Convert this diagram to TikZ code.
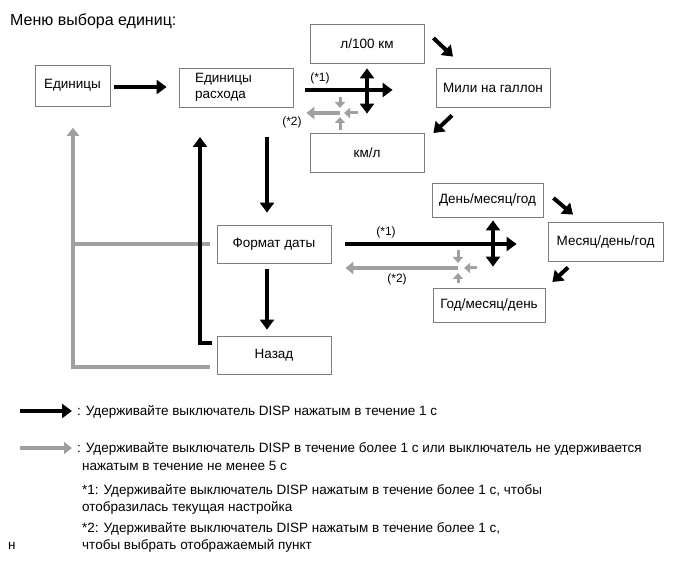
\documentclass[tikz,border=0pt]{standalone}
\usepackage{fontspec}
\setmainfont{Liberation Sans}
\usetikzlibrary{arrows.meta}
\definecolor{boxgray}{RGB}{125,125,125}
\definecolor{arrgray}{RGB}{160,160,160}
\tikzset{
  unitbox/.style={draw=boxgray, line width=0.8pt, minimum width=114pt, minimum height=39pt, inner sep=0pt, font=\fontsize{13.5}{16}\selectfont},
  blk/.style={line width=4pt, draw=black, -{Triangle[length=10pt,width=14pt]}},
  blkboth/.style={line width=4pt, draw=black, {Triangle[length=10pt,width=14pt]}-{Triangle[length=10pt,width=14pt]}},
  gry/.style={line width=4pt, draw=arrgray, -{Triangle[length=8pt,width=12pt]}},
  gryin/.style={line width=3pt, draw=arrgray, -{Triangle[length=6pt,width=10pt]}},
  notelabel/.style={font=\fontsize{12}{14}\selectfont, inner sep=0pt},
  legend/.style={anchor=base west, inner sep=0pt, font=\fontsize{13.5}{17}\selectfont},
}
\begin{document}
\begin{tikzpicture}[x=1pt, y=-1pt]
\useasboundingbox (0,0) rectangle (691,564);
\node[anchor=base west, inner sep=0pt, font=\fontsize{16}{19}\selectfont] (title) at (10,25.5) {Меню выбора единиц:};

% units menu
\node[unitbox, minimum width=75pt, minimum height=41pt] (units) at (72.5,85.5) {Единицы};
\node[unitbox, text width=82pt, inner xsep=16pt, align=left] (cons) at (236,87.5) {Единицы\\расхода};
\node[unitbox] (l100) at (367,43.5) {л/100 км};
\node[unitbox] (mpg) at (493,87.5) {Мили на галлон};
\node[unitbox] (kml) at (367,152.5) {км/л};

% date menu
\node[unitbox, minimum width=111pt, minimum height=34pt] (dmy) at (487.5,200) {День/месяц/год};
\node[unitbox, minimum width=115pt] (mdy) at (605.5,241.5) {Месяц/день/год};
\node[unitbox, minimum width=112pt, minimum height=34pt] (ymd) at (489,305) {Год/месяц/день};
\node[unitbox, minimum height=38pt] (fmt) at (274,244) {Формат даты};
\node[unitbox, minimum height=38pt] (back) at (274,355) {Назад};

\coordinate (hubA) at (340,113);
\coordinate (hubB) at (458,268);
\coordinate (grayup) at (73,128);
\coordinate (blackup) at (200,137);

% gray returns
\draw[gry, shorten <=7pt] (fmt.west) -| (grayup);
\draw[gry, shorten <=7pt] ([yshift=-12pt]back.west) -| (grayup);

% black flow
\draw[blk, shorten <=5pt] ([yshift=12pt]back.west) -| (blackup);
\draw[blk, shorten <=4pt, shorten >=12pt] ([yshift=-1.5pt]units.east) -- ([yshift=0.5pt]cons.west);
\draw[blk, shorten <=30pt, shorten >=12pt] ([xshift=31pt]cons.south) -- ([xshift=-7pt]fmt.north);
\draw[blk, shorten <=6pt, shorten >=6pt] ([xshift=-7pt]fmt.south) -- ([xshift=-7pt]back.north);

% fuel cross
\draw[blk, shorten <=12pt, shorten >=43pt] ([yshift=-2.5pt]cons.east) -- ([yshift=-2.5pt]mpg.west);
\draw[blkboth, shorten <=5pt, shorten >=19pt] (l100.south) -- (kml.north);
\draw[gry, shorten >=13pt] (hubA) -- (hubA -| cons.east);
\draw[gryin] ([yshift=16pt]hubA) -- ([yshift=5pt]hubA);
\draw[gryin] ([yshift=-17pt]hubA) -- ([yshift=-4pt]hubA);
\draw[gryin] ([xshift=18pt]hubA) -- ([xshift=4pt]hubA);
\node[notelabel] (starA1) at (320,78) {(*1)};
\node[notelabel] (starA2) at (292,122) {(*2)};
\draw[blk] ([shift={(9,-5.5)}]l100.east) -- ([shift={(-40,-11)}]mpg.north);
\draw[blk] ([shift={(-41,8)}]mpg.south) -- ([shift={(9,-19.5)}]kml.east);

% date cross
\draw[blk, shorten <=14pt, shorten >=31pt] (fmt.east) -- ([yshift=-2.5pt]mdy.west);
\draw[blkboth, shorten <=3pt, shorten >=21pt] ([xshift=5.5pt]dmy.south) -- ([xshift=4pt]ymd.north);
\draw[gry, shorten >=14pt] (hubB) -- (hubB -| fmt.east);
\draw[gryin] ([yshift=18pt]hubB) -- ([yshift=5pt]hubB);
\draw[gryin] ([xshift=19pt]hubB) -- ([xshift=6pt]hubB);
\draw[gryin] ([yshift=-15pt]hubB) -- ([yshift=-5pt]hubB);
\node[notelabel] (starB1) at (386,232) {(*1)};
\node[notelabel] (starB2) at (397,279) {(*2)};
\draw[blk] ([shift={(10,-2)}]dmy.east) -- ([shift={(-32.5,-7)}]mdy.north);
\draw[blk] ([shift={(-37.5,6)}]mdy.south) -- ([shift={(7,-23)}]ymd.east);

% legend
\node[legend] (legblack) at (77,415.5) {: Удерживайте выключатель DISP нажатым в течение 1 с};
\coordinate (legblackstart) at (20,411);
\draw[blk, shorten >=5pt] (legblackstart) -- (legblackstart -| legblack.west);
\node[legend] (leggray) at (77,452.5) {: Удерживайте выключатель DISP в течение более 1 с или выключатель не удерживается};
\node[legend] (leggray2) at (82,470.5) {нажатым в течение не менее 5 с};
\coordinate (leggraystart) at (20,448);
\draw[gry, shorten >=5pt] (leggraystart) -- (leggraystart -| leggray.west);
\node[legend] (note1) at (82,494.5) {*1: Удерживайте выключатель DISP нажатым в течение более 1 с, чтобы};
\node[legend] (note1b) at (82,511.5) {отобразилась текущая настройка};
\node[legend] (note2) at (82,532.5) {*2: Удерживайте выключатель DISP нажатым в течение более 1 с,};
\node[legend] (note2b) at (82,549.5) {чтобы выбрать отображаемый пункт};
\node[legend] (mark) at (8,549.5) {н};
\end{tikzpicture}
\end{document}
